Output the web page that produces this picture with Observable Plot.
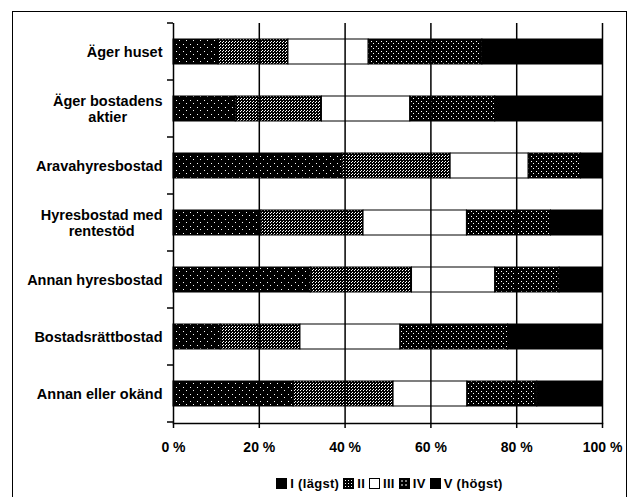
<!DOCTYPE html>
<html>
<head>
<meta charset="utf-8">
<script src="https://cdn.jsdelivr.net/npm/d3@7"></script>
<script src="https://cdn.jsdelivr.net/npm/@observablehq/plot@0.6"></script>
<style>
  body { margin: 0; background: #fff; font-family: "Liberation Sans", Arial, sans-serif; }
  #frame { position: absolute; left: 12px; top: 11px; width: 613px; height: 520px; border: 1.5px solid #000; z-index: 5; pointer-events: none; }
  #chart { position: absolute; left: 0; top: 0; width: 637px; }
  #legend { position: absolute; left: 173px; width: 429px; top: 476px; text-align: center;
            font: bold 13px "Liberation Sans", Arial, sans-serif; color: #000; white-space: nowrap; letter-spacing: 0.3px; }
  .sw { display: inline-block; width: 11px; height: 11px; border: 1px solid #000; vertical-align: -1px; margin: 0 3px 0 4px; box-sizing: border-box; }
</style>
</head>
<body>
<div id="chart"></div>
<div id="legend"></div>
<div id="frame"></div>
<script>
const categories = [
  "Äger huset",
  "Äger bostadens\naktier",
  "Aravahyresbostad",
  "Hyresbostad med\nrentestöd",
  "Annan hyresbostad",
  "Bostadsrättbostad",
  "Annan eller okänd"
];
const groups = ["I (lägst)", "II", "III", "IV", "V (högst)"];
const sI   = [10.5, 14.5, 39.4, 20.5, 32.0, 11.0, 28.0];
const sII  = [16.3, 20.1, 25.2, 23.8, 23.6, 18.6, 23.3];
const sIII = [18.7, 20.6, 18.2, 24.1, 19.4, 23.3, 17.2];
const sIV  = [26.5, 19.8, 12.2, 19.6, 15.0, 25.1, 16.3];
const sV   = [28.0, 25.0,  5.0, 12.0, 10.0, 22.0, 15.2];
const xTicks = [0, 20, 40, 60, 80, 100];

const series = [sI, sII, sIII, sIV, sV];
const rows = [];
categories.forEach((c, i) => groups.forEach((g, k) => rows.push({cat: c, grp: g, value: series[k][i]})));

const fills = ["url(#pI)", "url(#pII)", "#ffffff", "url(#pIV)", "#000000"];

const plot = Plot.plot({
  width: 637,
  height: 460,
  marginLeft: 173,
  marginRight: 35,
  marginTop: 23,
  marginBottom: 37,
  style: {fontFamily: "'Liberation Sans', Arial, sans-serif", background: "transparent", overflow: "visible"},
  x: {domain: [0, 100]},
  y: {domain: categories, paddingInner: 0.56, paddingOuter: 0.28},
  color: {type: "ordinal", domain: groups, range: fills},
  marks: [
    Plot.barX(rows, {x: "value", y: "cat", fill: "grp", order: groups, stroke: "#000", strokeWidth: 1, inset: 0}),
    Plot.ruleX(xTicks, {stroke: "#000", strokeWidth: 1.5}),
    Plot.frame({anchor: "bottom", stroke: "#000", strokeWidth: 1.5}),
    Plot.axisX({ticks: xTicks, tickFormat: d => d + " %", tickSize: 5, tickPadding: 14,
                fontSize: 14, fontWeight: "bold", stroke: "#000", strokeWidth: 1.5, label: null}),
    Plot.axisY({tickSize: 0, tickPadding: 11, fontSize: 14.5, fontWeight: "bold", label: null, lineHeight: 1.05})
  ]
});

document.getElementById("chart").appendChild(plot);

// patterns
const svg = d3.select(plot);
const defs = svg.insert("defs", ":first-child");
function pat(id, size, dots) {
  const p = defs.append("pattern").attr("id", id).attr("patternUnits", "userSpaceOnUse")
    .attr("width", size).attr("height", size);
  p.append("rect").attr("width", size).attr("height", size).attr("fill", "#000");
  dots.forEach(([x, y]) => p.append("rect").attr("x", x).attr("y", y).attr("width", 1).attr("height", 1).attr("fill", "#fff"));
}
pat("pI", 7, [[1, 2], [4, 5]]);
pat("pII", 3, [[0, 0], [1, 2]]);
pat("pIV", 5, [[1, 1], [3, 3]]);

// category separator ticks on the y axis, from the band scale
const ys = plot.scale("y"), xs = plot.scale("x");
const x0 = xs.apply(0);
const gap = (ys.step - ys.bandwidth) / 2;
const bounds = categories.map(c => ys.apply(c) - gap);
bounds.push(ys.apply(categories[categories.length - 1]) - gap + ys.step);
svg.append("g").selectAll("line").data(bounds).join("line")
  .attr("x1", x0 - 6).attr("x2", x0).attr("y1", d => d).attr("y2", d => d)
  .attr("stroke", "#000").attr("stroke-width", 1.5);

// center multi-line y labels
svg.selectAll("text").each(function () {
  const t = d3.select(this);
  const spans = t.selectAll("tspan");
  if (spans.size() > 1 && t.attr("text-anchor") !== "middle") {
    let maxW = 0;
    spans.each(function () { maxW = Math.max(maxW, this.getComputedTextLength()); });
    const anchorNode = this.closest("[text-anchor]");
    if (anchorNode && anchorNode.getAttribute("text-anchor") === "end") {
      t.attr("text-anchor", "middle");
      spans.attr("x", -maxW / 2);
    }
  }
});

// legend
const swStyles = [
  "background:#000;",
  "background-color:#000;background-image:radial-gradient(#fff 28%, transparent 32%);background-size:3px 3px;",
  "background:#fff;",
  "background-color:#000;background-image:radial-gradient(#fff 22%, transparent 28%);background-size:4px 4px;",
  "background:#000;"
];
const lg = document.getElementById("legend");
groups.forEach((g, k) => {
  const s = document.createElement("span");
  s.className = "sw";
  s.setAttribute("style", swStyles[k]);
  lg.appendChild(s);
  lg.appendChild(document.createTextNode(g));
});
</script>
</body>
</html>
